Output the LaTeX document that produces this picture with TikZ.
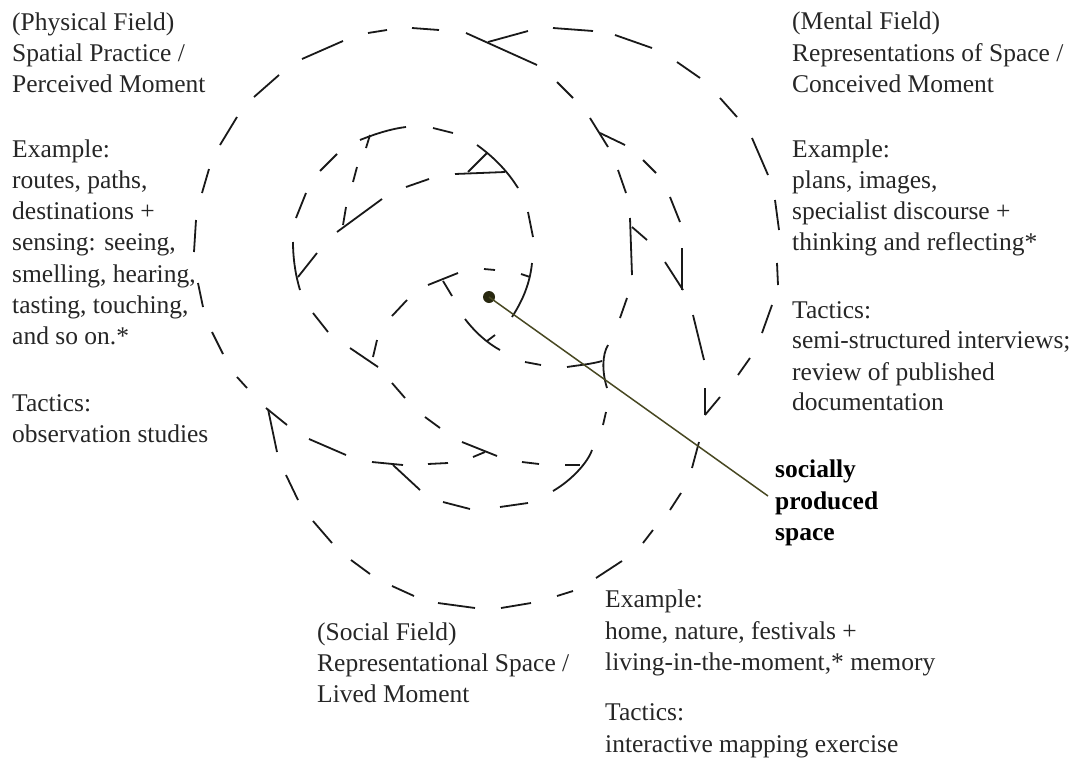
\documentclass[tikz,border=0pt]{standalone}
\usepackage{fontspec}
\setmainfont{Liberation Serif}
\begin{document}
\begin{tikzpicture}[x=1pt,y=-1pt,
  dsh/.style={line width=1.8pt,black!90},
  txt/.style={anchor=base west,inner sep=0pt,font=\fontsize{25.5}{30}\selectfont,text=black!85},
  btxt/.style={txt,font=\fontsize{25.5}{30}\selectfont\bfseries,text=black},
  conn/.style={line width=1.5pt,draw={rgb,255:red,72;green,72;blue,34}}]
\useasboundingbox (0,0) rectangle (1078,763);
% straight dash segments
\foreach \a/\b/\c/\d in {
 466/33/537/65, 488/42/528/31, 412/28/439/30, 368/33/387/30, 302/59/343/41,
 254/97/279/75, 220/145/237/117, 202/193/209/169, 194/252/196/220, 198/283/203/307,
 212/332/223/354, 237/377/247/388, 266/408/287/425, 268/409/277/452, 286/475/298/500,
 313/521/332/543, 351/560/370/574, 392/586/414/596, 438/603/475/608, 501/608/531/603,
 557/596/573/591, 596/578/622/561, 643/543/653/530, 670/510/681/493, 692/468/699/442,
 705/415/705/388, 705/415/720/397, 693/315/704/360, 682/248/682/290, 665/262/683/290,
 670/197/680/222, 643/160/656/173, 600/133/625/145,
 557/82/573/98, 590/118/608/147, 618/170/626/193, 630/218/632/275, 632/227/647/240,
 627/298/620/318, 606/412/603/425, 565/465/580/465, 528/503/500/507, 470/509/443/502,
 420/490/393/465,
 553/28/593/31, 615/35/652/48, 677/62/700/78, 720/98/737/117, 752/138/768/175,
 775/200/779/230, 777/263/778/285, 772/305/762/333, 750/358/738/375,
 309/439/346/455, 372/462/403/465, 428/464/448/463, 473/457/485/452,
 433/128/453/133, 528/212/533/237, 521/274/530/277, 337/154/320/171, 306/193/296/218,
 298/277/317/253, 313/313/328/332, 350/348/378/367, 373/357/377/340, 392/383/405/398,
 425/417/440/428, 462/442/497/456, 522/462/539/464,
 366/148/370/135, 353/182/357/167, 337/232/382/199, 343/225/346/207, 406/187/429/179,
 455/174/505/172, 468/172/487/153, 392/316/407/300, 428/285/458/273, 443/281/452/296,
 484/269/495/270, 487/341/495/335, 525/362/541/365}
 \draw[dsh] (\a,\b) -- (\c,\d);
% curved dash segments
\draw[dsh] (608,345) .. controls (602,355) and (602,372) .. (607,388);
\draw[dsh] (592,450) .. controls (588,462) and (572,480) .. (553,491);
\draw[dsh] (477,145) .. controls (495,158) and (508,172) .. (518,188);
\draw[dsh] (532,263) .. controls (530,283) and (523,300) .. (512,317);
\draw[dsh] (293,242) .. controls (293,260) and (296,277) .. (300,290);
\draw[dsh] (465,319) .. controls (475,332) and (487,343) .. (500,350);
\draw[dsh] (567,367) .. controls (580,365) and (592,364) .. (602,361);
\draw[dsh] (360,140) .. controls (375,134) and (390,129) .. (406,127);
% centre dot and connector
\node[circle,inner sep=0pt,minimum size=12pt,fill={rgb,255:red,40;green,40;blue,16}] (dot) at (489,297) {};
\coordinate (lend) at (768,496);
\draw[conn] (dot.center) -- (lend);
% left block
\node[txt] (p1) at (12,30) {(Physical Field)};
\node[txt] (p2) at (12,61) {Spatial Practice /};
\node[txt] (p3) at (12,92) {Perceived Moment};
\node[txt] (p4) at (12,157) {Example:};
\node[txt] (p5) at (12,188) {routes, paths,};
\node[txt] (p6) at (12,219) {destinations +};
\node[txt] (p7) at (12,250) {sensing: seeing,};
\node[txt] (p8) at (12,282) {smelling, hearing,};
\node[txt] (p9) at (12,313) {tasting, touching,};
\node[txt] (p10) at (12,344) {and so on.*};
\node[txt] (p11) at (12,411) {Tactics:};
\node[txt] (p12) at (12,442) {observation studies};
% right block
\node[txt] (m1) at (792,29) {(Mental Field)};
\node[txt] (m2) at (792,61) {Representations of Space /};
\node[txt] (m3) at (792,92) {Conceived Moment};
\node[txt] (m4) at (792,157) {Example:};
\node[txt] (m5) at (792,188) {plans, images,};
\node[txt] (m6) at (792,219) {specialist discourse +};
\node[txt] (m7) at (792,250) {thinking and reflecting*};
\node[txt] (m8) at (792,318) {Tactics:};
\node[txt] (m9) at (792,348) {semi-structured interviews;};
\node[txt] (m10) at (792,380) {review of published};
\node[txt] (m11) at (792,410) {documentation};
% socially produced space
\node[btxt] (s1) at (775,477) {socially};
\node[btxt] (s2) at (775,509) {produced};
\node[btxt] (s3) at (775,540) {space};
% bottom blocks
\node[txt] (b1) at (317,640) {(Social Field)};
\node[txt] (b2) at (317,671) {Representational Space /};
\node[txt] (b3) at (317,702) {Lived Moment};
\node[txt] (e1) at (605,607) {Example:};
\node[txt] (e2) at (605,639) {home, nature, festivals +};
\node[txt] (e3) at (605,670) {living-in-the-moment,* memory};
\node[txt] (e4) at (605,720) {Tactics:};
\node[txt] (e5) at (605,752) {interactive mapping exercise};
\end{tikzpicture}
\end{document}
